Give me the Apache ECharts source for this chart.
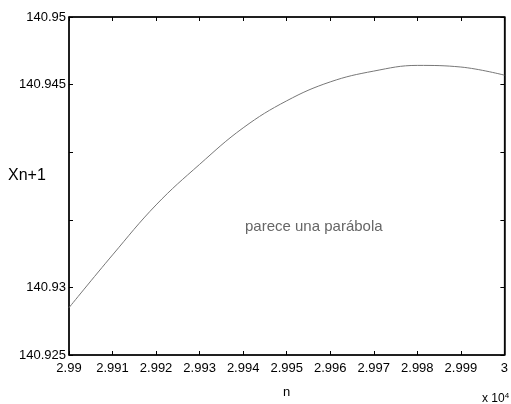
<!DOCTYPE html>
<html>
<head>
<meta charset="utf-8">
<script src="https://cdn.jsdelivr.net/npm/echarts@6/dist/echarts.min.js"></script>
<style>
  html, body { margin: 0; padding: 0; background: #fff; }
  #chart { width: 511px; height: 404px; }
</style>
</head>
<body>
<div id="chart"></div>
<script>
// values at each tick (n in units of 1e4)
const nValues = [2.990, 2.991, 2.992, 2.993, 2.994, 2.995, 2.996, 2.997, 2.998, 2.999, 3.000]
const xNext = [140.9285, 140.9324, 140.9361, 140.9391, 140.9418, 140.9438,
  140.9452, 140.9460, 140.94642, 140.9463, 140.9457]
const yTickLabels = ["140.925", "140.93", "140.945", "140.95"] // the others are not printed

const font = "Liberation Sans, Arial, sans-serif"

const chart = echarts.init(document.getElementById("chart"))

const points = nValues.map((n, i) => [n, xNext[i]])

// Round tick values so float noise doesn't leak into labels
function fmt(v, digits) {
  return String(parseFloat(v.toFixed(digits)))
}

const boxAxis = {
  axisLine: { show: true, onZero: false, lineStyle: { color: "#000", width: 1.5 } },
  axisTick: { show: true, inside: true, length: 4, lineStyle: { color: "#000" } },
  splitLine: { show: false },
}

const option = {
  animation: false,
  grid: {
    left: 69,
    right: 4,
    top: 17,
    bottom: 42,
    show: true,
    borderColor: "#000",
    borderWidth: 1,
  },
  xAxis: [
    {
      ...boxAxis,
      type: "value",
      min: 2.99,
      max: 3,
      interval: 0.001,
      axisLabel: {
        color: "#000",
        fontFamily: font,
        fontSize: 13,
        margin: 7,
        formatter: (v) => fmt(v, 3),
      },
      name: "n",
      nameLocation: "middle",
      nameGap: 31,
      nameTextStyle: { color: "#000", fontFamily: font, fontSize: 13 },
    },
    {
      ...boxAxis,
      type: "value",
      position: "top",
      min: 2.99,
      max: 3,
      interval: 0.001,
      axisLabel: { show: false },
    },
  ],
  yAxis: [
    {
      ...boxAxis,
      type: "value",
      min: 140.925,
      max: 140.95,
      interval: 0.005,
      axisLabel: {
        color: "#000",
        fontFamily: font,
        fontSize: 13,
        margin: 3,
        formatter: (v) => {
          const s = fmt(v, 3)
          return yTickLabels.includes(s) ? s : ""
        },
      },
    },
    {
      ...boxAxis,
      type: "value",
      position: "right",
      min: 140.925,
      max: 140.95,
      interval: 0.005,
      axisLabel: { show: false },
    },
  ],
  series: [
    {
      type: "line",
      data: points,
      smooth: 0.4,
      showSymbol: false,
      lineStyle: { color: "#777", width: 1 },
      xAxisIndex: 0,
      yAxisIndex: 0,
    },
  ],
  graphic: [
    {
      type: "text",
      left: 8,
      top: 168,
      style: { text: "Xn+1", font: "16px " + font, fill: "#000" },
    },
    {
      type: "text",
      left: 245,
      top: 219,
      style: { text: "parece una parábola", font: "15px " + font, fill: "#666" },
    },
    {
      type: "text",
      left: 482,
      top: 392,
      style: {
        text: "x 10{sup|4}",
        font: "12px " + font,
        fill: "#000",
        rich: { sup: { fontSize: 8, verticalAlign: "top", padding: [0, 0, 6, 0] } },
      },
    },
  ],
}

chart.setOption(option)
</script>
</body>
</html>
